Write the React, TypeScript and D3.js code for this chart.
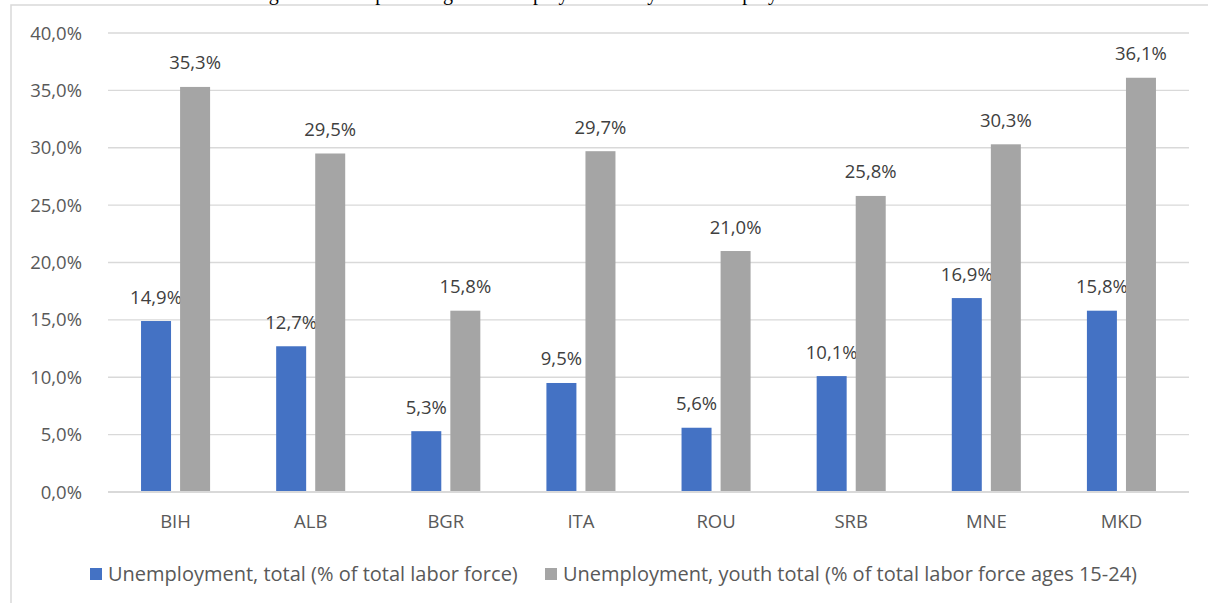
import * as d3 from 'd3';
import React, { useRef, useEffect } from 'react';

const countries = ['BIH', 'ALB', 'BGR', 'ITA', 'ROU', 'SRB', 'MNE', 'MKD'];
const totalRate = [14.9, 12.7, 5.3, 9.5, 5.6, 10.1, 16.9, 15.8];
const youthRate = [35.3, 29.5, 15.8, 29.7, 21.0, 25.8, 30.3, 36.1];
const yTicks = [0, 5, 10, 15, 20, 25, 30, 35, 40];
const seriesNames = [
  'Unemployment, total (% of total labor force)',
  'Unemployment, youth total (% of total labor force ages 15-24)',
];
const titleText = 'Figure 1: Total percentage of unemployment and youth unemployment';

const fmt = (v: number) => v.toFixed(1).replace('.', ',') + '%';

function App(): any {
  const ref = useRef(null);

  const width = 1208;
  const height = 603;
  const margin = { top: 33, right: 19, bottom: 111, left: 108 };
  const colors = ['#4472c4', '#a5a5a5'];
  const font = '"Open Sans", Lato, sans-serif';

  useEffect(() => {
    const svg = d3.select(ref.current);
    svg.selectAll('*').remove();

    const x = d3.scaleBand()
      .domain(countries)
      .range([margin.left, width - margin.right]);

    const y = d3.scaleLinear()
      .domain([0, 40])
      .range([height - margin.bottom, margin.top]);

    // frame of the chart
    svg.append('rect')
      .attr('x', 11)
      .attr('y', 5)
      .attr('width', 1210)
      .attr('height', 620)
      .attr('fill', 'white')
      .attr('stroke', '#d9d9d9')
      .attr('stroke-width', 1.5);

    // title, mostly outside the picture
    svg.append('text')
      .attr('x', 252)
      .attr('y', 0)
      .attr('font-family', '"Liberation Serif", serif')
      .attr('font-size', 20)
      .attr('fill', '#000')
      .text(titleText);

    // grid
    svg.append('g')
      .selectAll('line')
      .data(yTicks.slice(1))
      .join('line')
      .attr('x1', margin.left)
      .attr('x2', width - margin.right)
      .attr('y1', d => y(d))
      .attr('y2', d => y(d))
      .attr('stroke', '#d9d9d9')
      .attr('stroke-width', 1.3);

    svg.append('g')
      .selectAll('text')
      .data(yTicks)
      .join('text')
      .attr('x', 82)
      .attr('y', d => y(d) + 6.5)
      .attr('text-anchor', 'end')
      .attr('font-family', font)
      .attr('font-size', 18.5)
      .attr('fill', '#595959')
      .text(d => fmt(d));

    const step = x.step();
    const barW = step * 0.222;
    const gap = step * 0.067;
    const series = [totalRate, youthRate];

    series.forEach((vals, s) => {
      const off = s === 0 ? -(barW + gap / 2) : gap / 2;
      const g = svg.append('g');
      g.selectAll('rect')
        .data(vals)
        .join('rect')
        .attr('x', (_, i) => (x(countries[i]) as number) + step / 2 + off)
        .attr('y', d => y(d))
        .attr('width', barW)
        .attr('height', d => y(0) - y(d))
        .attr('fill', colors[s]);
      g.selectAll('text')
        .data(vals)
        .join('text')
        .attr('x', (_, i) => (x(countries[i]) as number) + step / 2 + off + barW / 2)
        .attr('y', d => y(d) - 17.5)
        .attr('text-anchor', 'middle')
        .attr('font-family', font)
        .attr('font-size', 18.5)
        .attr('fill', '#404040')
        .text(d => fmt(d));
    });

    // axis line
    svg.append('line')
      .attr('x1', margin.left)
      .attr('x2', width - margin.right)
      .attr('y1', y(0))
      .attr('y2', y(0))
      .attr('stroke', '#d9d9d9')
      .attr('stroke-width', 2);

    svg.append('g')
      .selectAll('text')
      .data(countries)
      .join('text')
      .attr('x', d => (x(d) as number) + step / 2)
      .attr('y', y(0) + 36)
      .attr('text-anchor', 'middle')
      .attr('font-family', font)
      .attr('font-size', 18.5)
      .attr('fill', '#595959')
      .text(d => d);

    // legend
    const legendX = [90, 545];
    const legend = svg.append('g');
    seriesNames.forEach((name, s) => {
      legend.append('rect')
        .attr('x', legendX[s])
        .attr('y', 568)
        .attr('width', 12)
        .attr('height', 12)
        .attr('fill', colors[s]);
      legend.append('text')
        .attr('x', legendX[s] + 18)
        .attr('y', 581)
        .attr('font-family', font)
        .attr('font-size', 20)
        .attr('fill', '#595959')
        .text(name);
    });
  }, []);

  return (
    <svg
      ref={ref}
      width={width}
      height={height}
      style={{ position: 'fixed', top: 0, left: 0, display: 'block', background: 'white' }}
    />
  );
}

export default App;
